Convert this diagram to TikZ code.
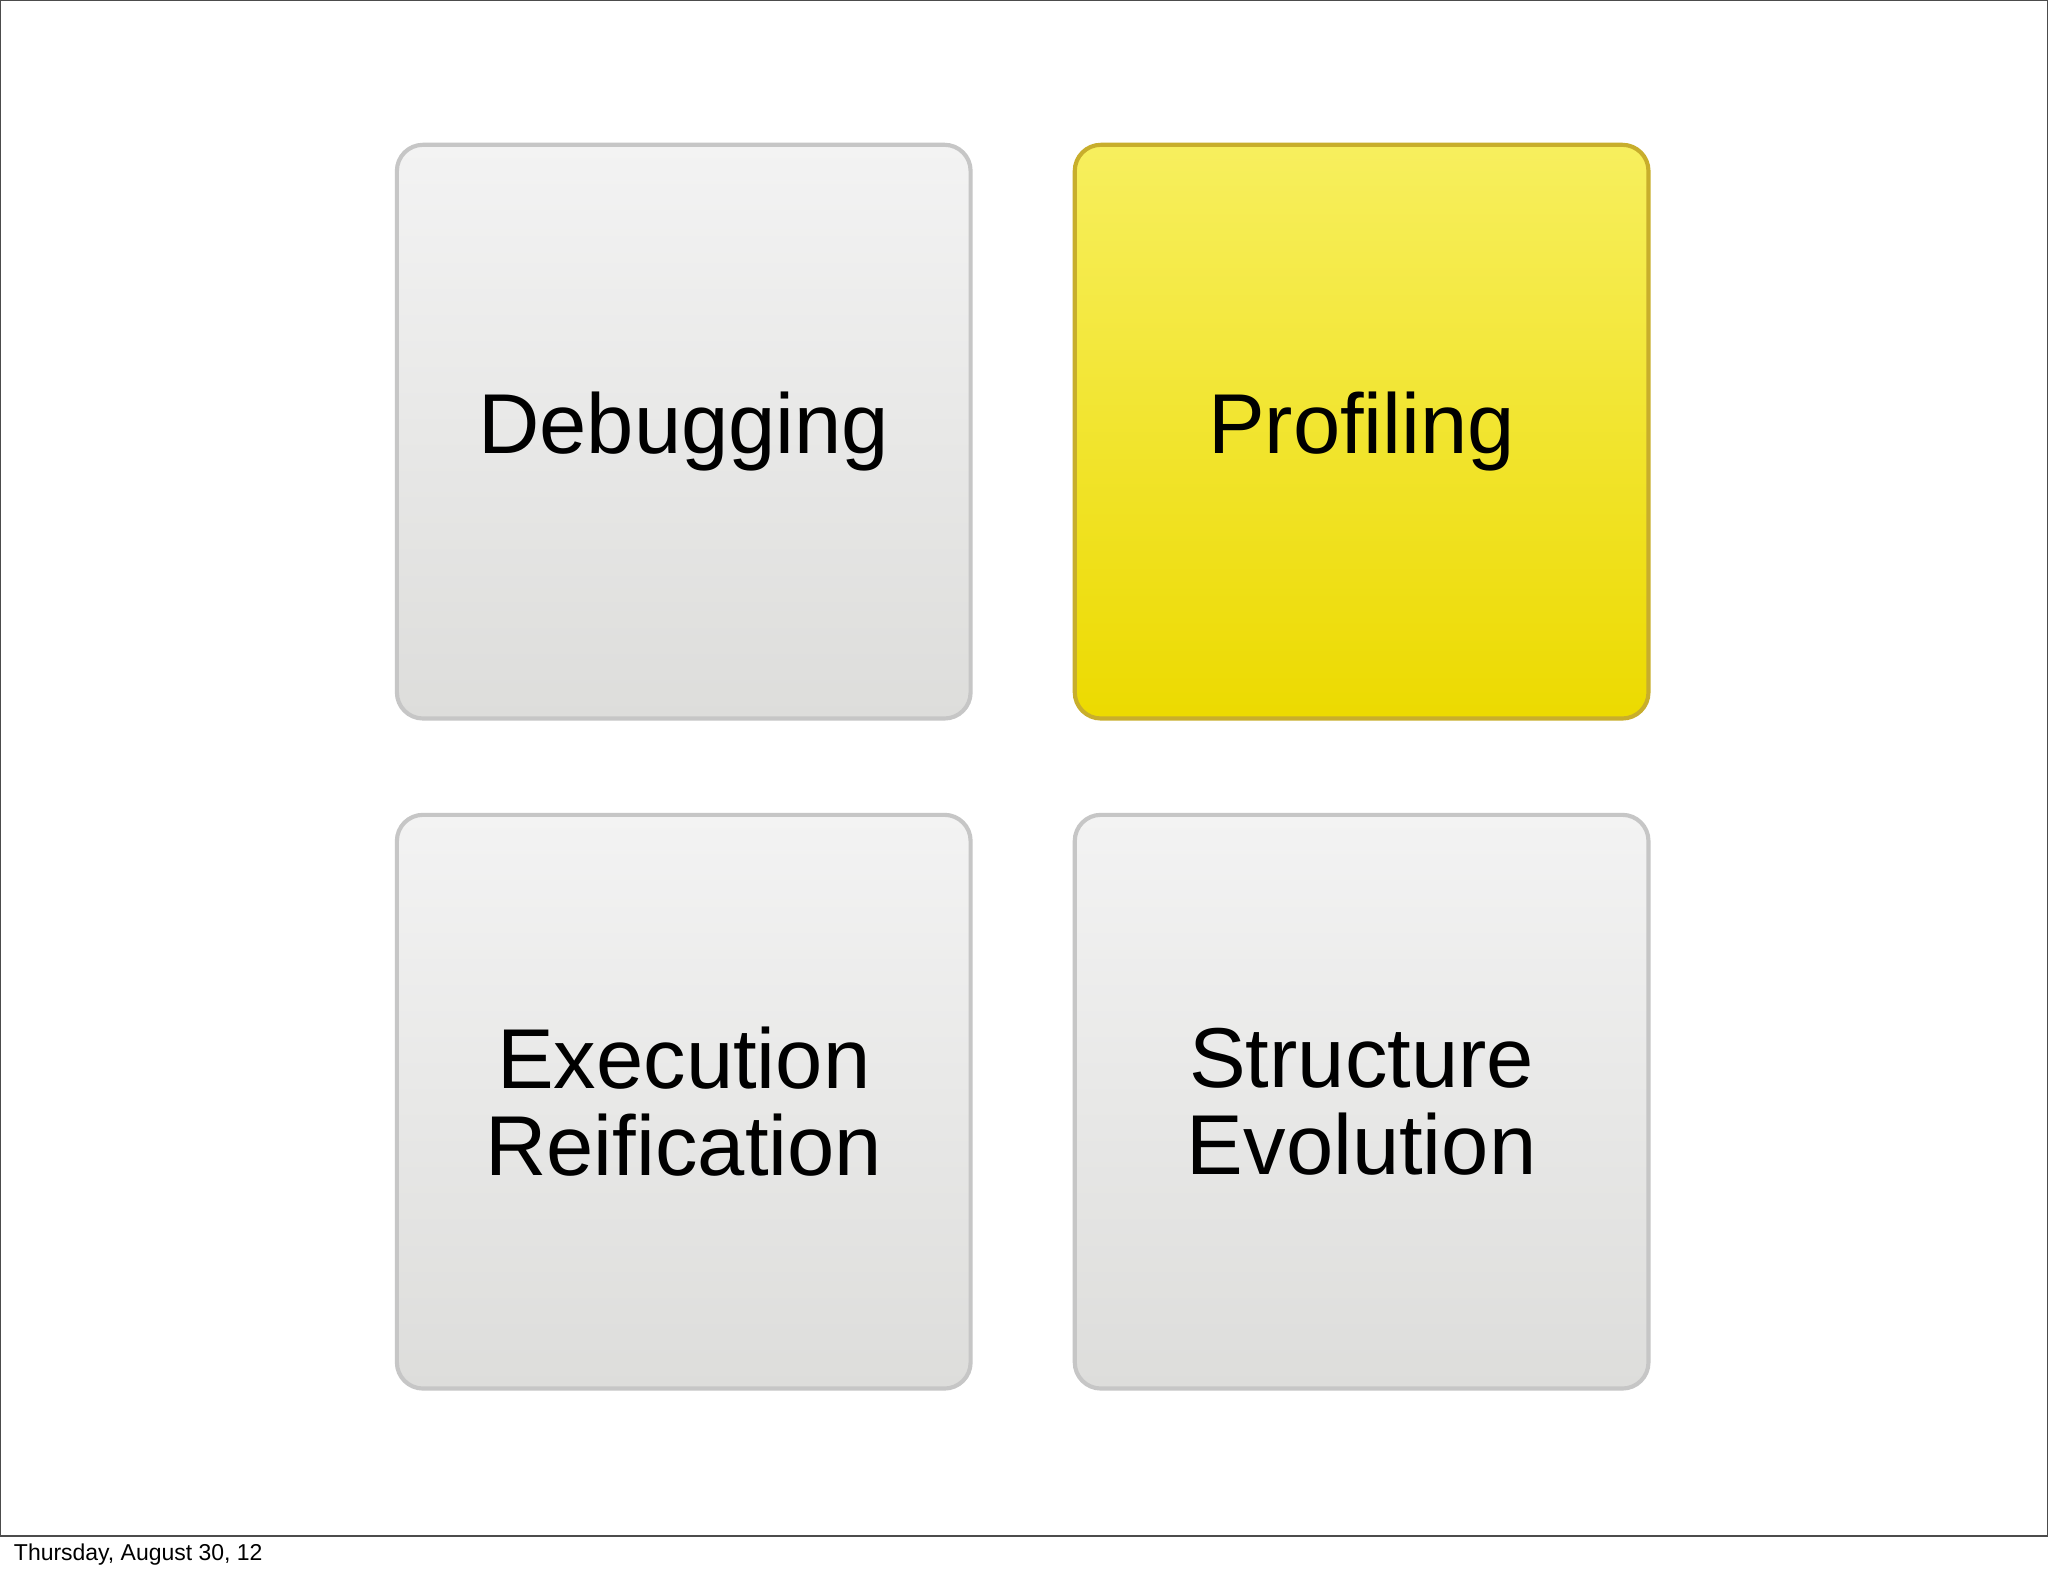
\documentclass[tikz,border=0pt]{standalone}
\usepackage{fontspec}
\setmainfont{Liberation Sans}
\definecolor{gtop}{HTML}{F3F3F3}
\definecolor{gbot}{HTML}{DDDDDB}
\definecolor{gline}{HTML}{C6C6C6}
\definecolor{ytop}{HTML}{F7EF5E}
\definecolor{ybot}{HTML}{ECDA00}
\definecolor{yline}{HTML}{C8AE2C}
\tikzset{
  tile/.style={minimum width=4.39cm, minimum height=4.39cm, rounded corners=0.2cm,
    draw=gline, line width=0.9pt, top color=gtop, bottom color=gbot,
    align=center, font=\fontsize{18.5}{21}\selectfont, inner sep=0pt},
  ytile/.style={tile, draw=yline, top color=ytop, bottom color=ybot}
}
\begin{document}
\begin{tikzpicture}[x=0.01cm,y=-0.01cm]
\useasboundingbox[fill=white] (0,0) rectangle (1568,1207);
\draw[line width=0.5pt, black!70] (0,0) rectangle (1568,1176);
\node[tile] (dbg) at (523.5,330.5) {Debugging};
\node[ytile] (prof) at (1042.5,330.5) {Profiling};
\node[tile] (exe) at (523.5,843.5) {Execution\\[-2pt]Reification};
\node[tile] (str) at (1042.5,843.5) {Structure\\[-2pt]Evolution};
\node[anchor=west, font=\fontsize{5}{6}\selectfont, inner sep=0pt] (foot) at (10,1190) {Thursday, August 30, 12};
\end{tikzpicture}
\end{document}
